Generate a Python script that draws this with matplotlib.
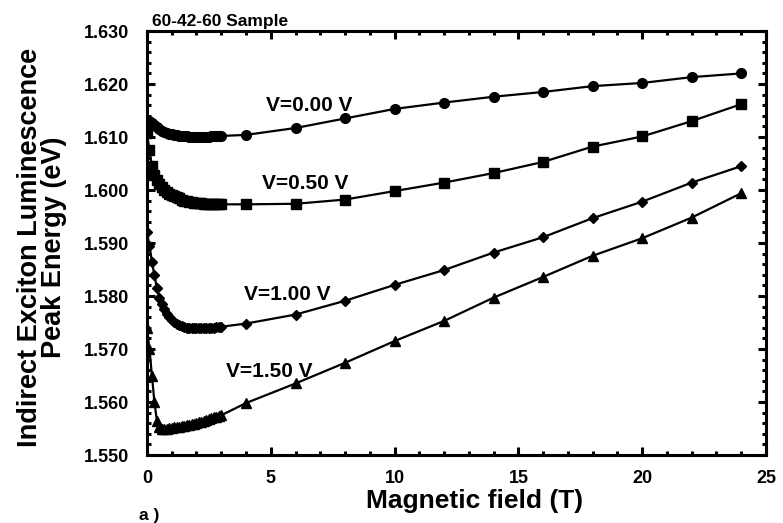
import matplotlib
matplotlib.use("Agg")
import matplotlib.pyplot as plt
from matplotlib.ticker import MultipleLocator, FormatStrFormatter

# low field scan, 0 - 3 T in 0.1 T steps
b_low = [0.0, 0.1, 0.2, 0.3, 0.4, 0.5, 0.6, 0.7, 0.8, 0.9, 1.0,
         1.1, 1.2, 1.3, 1.4, 1.5, 1.6, 1.7, 1.8, 1.9, 2.0,
         2.1, 2.2, 2.3, 2.4, 2.5, 2.6, 2.7, 2.8, 2.9, 3.0]
# high field points
b_high = [4, 6, 8, 10, 12, 14, 16, 18, 20, 22, 24]

e000_low = [1.6133, 1.6130, 1.6126, 1.6122, 1.6118, 1.6115, 1.6112, 1.6110, 1.6108, 1.6106, 1.6105,
            1.6104, 1.6103, 1.6102, 1.6102, 1.6101, 1.6101, 1.6100, 1.6100, 1.6100, 1.6100,
            1.6100, 1.6100, 1.6100, 1.6100, 1.6100, 1.6101, 1.6101, 1.6101, 1.6102, 1.6102]
e000_high = [1.6104, 1.6117, 1.6135, 1.6153, 1.6165, 1.6176, 1.6185, 1.6196, 1.6202, 1.6213, 1.6220]

e050_low = [1.6108, 1.6075, 1.6045, 1.6028, 1.6018, 1.6011, 1.6005, 1.6000, 1.5996, 1.5993, 1.5990,
            1.5988, 1.5986, 1.5984, 1.5982, 1.5980, 1.5979, 1.5978, 1.5977, 1.5976, 1.5975,
            1.5975, 1.5975, 1.5974, 1.5974, 1.5974, 1.5974, 1.5973, 1.5973, 1.5973, 1.5973]
e050_high = [1.5973, 1.5974, 1.5982, 1.5998, 1.6014, 1.6032, 1.6053, 1.6082, 1.6101, 1.6130, 1.6162]

e100_low = [1.5920, 1.5895, 1.5865, 1.5840, 1.5815, 1.5797, 1.5785, 1.5775, 1.5767, 1.5760, 1.5755,
            1.5751, 1.5748, 1.5745, 1.5743, 1.5741, 1.5740, 1.5739, 1.5739, 1.5739, 1.5739,
            1.5739, 1.5739, 1.5739, 1.5739, 1.5739, 1.5740, 1.5740, 1.5741, 1.5741, 1.5742]
e100_high = [1.5748, 1.5765, 1.5791, 1.5821, 1.5849, 1.5882, 1.5911, 1.5947, 1.5978, 1.6014, 1.6045]

e150_low = [1.5740, 1.5700, 1.5650, 1.5600, 1.5565, 1.5552, 1.5550, 1.5550, 1.5550, 1.5551, 1.5551,
            1.5552, 1.5552, 1.5553, 1.5554, 1.5555, 1.5556, 1.5557, 1.5558, 1.5559, 1.5560,
            1.5562, 1.5563, 1.5565, 1.5566, 1.5568, 1.5569, 1.5571, 1.5572, 1.5573, 1.5575]
e150_high = [1.5598, 1.5635, 1.5674, 1.5715, 1.5753, 1.5797, 1.5836, 1.5876, 1.5909, 1.5948, 1.5994]

labels = ["V=0.00 V", "V=0.50 V", "V=1.00 V", "V=1.50 V"]
label_pos = [(4.8, 1.6160), (4.65, 1.6013), (3.9, 1.5802), (3.2, 1.5658)]

plt.rcParams["font.family"] = ["Liberation Sans", "DejaVu Sans"]
plt.rcParams["font.weight"] = "bold"

fig = plt.figure(figsize=(7.83, 5.23), dpi=100)
ax = fig.add_axes([0.1877, 0.130, 0.7906, 0.8107])

series = [(e000_low, e000_high, "o", 7.0),
          (e050_low, e050_high, "s", 6.5),
          (e100_low, e100_high, "D", 4.8),
          (e150_low, e150_high, "^", 6.5)]
for lo, hi, m, ms in series:
    ax.plot(b_low + b_high, lo + hi, color="black", lw=1.6, marker=m, ms=ms,
            markerfacecolor="black", markeredgecolor="black")

for txt, (x, y) in zip(labels, label_pos):
    ax.text(x, y, txt, fontsize=15, fontweight="bold", ha="left", va="center")

ax.set_xlim(0, 25)
ax.set_ylim(1.550, 1.630)
ax.xaxis.set_major_locator(MultipleLocator(5))
ax.xaxis.set_minor_locator(MultipleLocator(1))
ax.yaxis.set_major_locator(MultipleLocator(0.01))
ax.yaxis.set_minor_locator(MultipleLocator(0.002))
ax.yaxis.set_major_formatter(FormatStrFormatter("%.3f"))

for s in ax.spines.values():
    s.set_linewidth(2.2)
ax.tick_params(which="both", direction="in", top=True, right=True, width=2.2)
ax.tick_params(which="major", length=6, labelsize=13, pad=11)
ax.tick_params(which="minor", length=3)
ax.tick_params(axis="y", which="major", pad=13)

ax.set_xlabel("Magnetic field (T)", fontsize=19, fontweight="bold")
ax.xaxis.set_label_coords(0.53, -0.08)
fig.text(0.054, 0.527, "Indirect Exciton Luminescence\nPeak Energy (eV)",
         rotation=90, ha="center", va="center", fontsize=19.5, fontweight="bold",
         linespacing=0.88)
ax.text(0.008, 1.004, "60-42-60 Sample", transform=ax.transAxes,
        fontsize=12.5, fontweight="bold", ha="left", va="bottom")
fig.text(0.178, 0.0, "a )", fontsize=12.5, fontweight="bold", ha="left", va="bottom")

fig.savefig("out.png", dpi=100)
